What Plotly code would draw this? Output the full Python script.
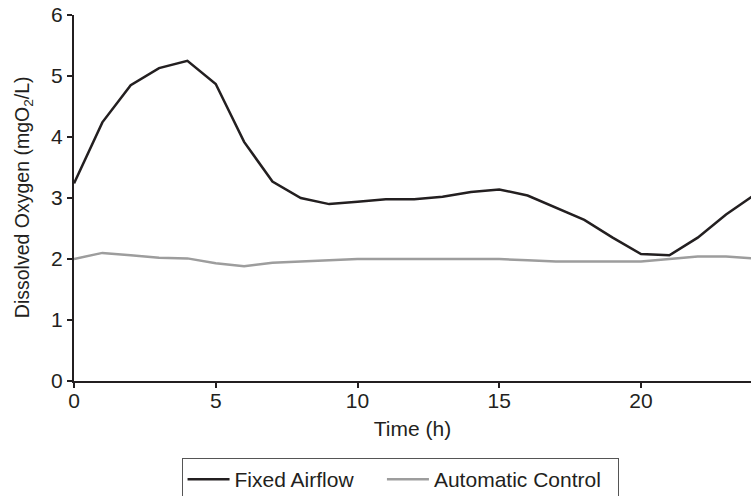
import plotly.graph_objects as go

# Hourly dissolved oxygen readings over one day
hours = list(range(25))
fixed_airflow = [3.24, 4.24, 4.85, 5.13, 5.25, 4.87, 3.92, 3.27, 3.00, 2.90,
                 2.94, 2.98, 2.98, 3.02, 3.10, 3.14, 3.04, 2.84, 2.64, 2.35,
                 2.08, 2.06, 2.35, 2.73, 3.05]
automatic_control = [2.00, 2.10, 2.06, 2.02, 2.01, 1.93, 1.88, 1.94, 1.96, 1.98,
                     2.00, 2.00, 2.00, 2.00, 2.00, 2.00, 1.98, 1.96, 1.96, 1.96,
                     1.96, 2.00, 2.04, 2.04, 2.01]
x_ticks = [0, 5, 10, 15, 20]
y_ticks = [0, 1, 2, 3, 4, 5, 6]

ink = "#231f20"
family = "Liberation Sans, Arial, sans-serif"
font = dict(family=family, size=21, color=ink)
pad = "\u00a0"  # non-collapsing space used to widen legend entries

fig = go.Figure()
fig.add_trace(go.Scatter(x=hours, y=fixed_airflow, mode="lines",
                         name="Fixed Airflow" + pad * 4,
                         line=dict(color=ink, width=2.5)))
fig.add_trace(go.Scatter(x=hours, y=automatic_control, mode="lines",
                         name="Automatic Control" + pad * 2,
                         line=dict(color="#9d9d9d", width=2.5)))

fig.update_layout(
    width=751, height=496,
    margin=dict(l=74, r=0, t=15, b=115),
    paper_bgcolor="white", plot_bgcolor="white",
    font=font,
    showlegend=True,
    legend=dict(orientation="h", x=0.4816, xanchor="center", y=0.0766, yanchor="top",
                yref="container", bordercolor="#555555", borderwidth=1,
                font=font, itemwidth=42, tracegroupgap=0),
)
fig.update_xaxes(range=[0, 23.88], tickvals=x_ticks, showgrid=False, zeroline=False,
                 showline=True, linecolor=ink, linewidth=2, ticks="outside",
                 ticklen=5, tickwidth=1.5, tickcolor=ink, ticklabelstandoff=-5,
                 title=dict(text="Time (h)", standoff=10, font=font), tickfont=font)
fig.update_yaxes(range=[0, 6], tickvals=y_ticks, showgrid=False, zeroline=False,
                 showline=True, linecolor=ink, linewidth=2, ticks="outside",
                 ticklen=5, tickwidth=1.5, tickcolor=ink, tickfont=font)

# Vertical y-axis label, placed as a rotated annotation left of the tick labels
fig.add_annotation(text="Dissolved Oxygen (mgO<sub>2</sub>/L)", textangle=-90,
                   xref="paper", yref="paper", x=-0.0735, y=0.503,
                   xanchor="center", yanchor="middle", showarrow=False,
                   font=dict(family=family, size=19.5, color=ink))

fig.write_html("out.html")
